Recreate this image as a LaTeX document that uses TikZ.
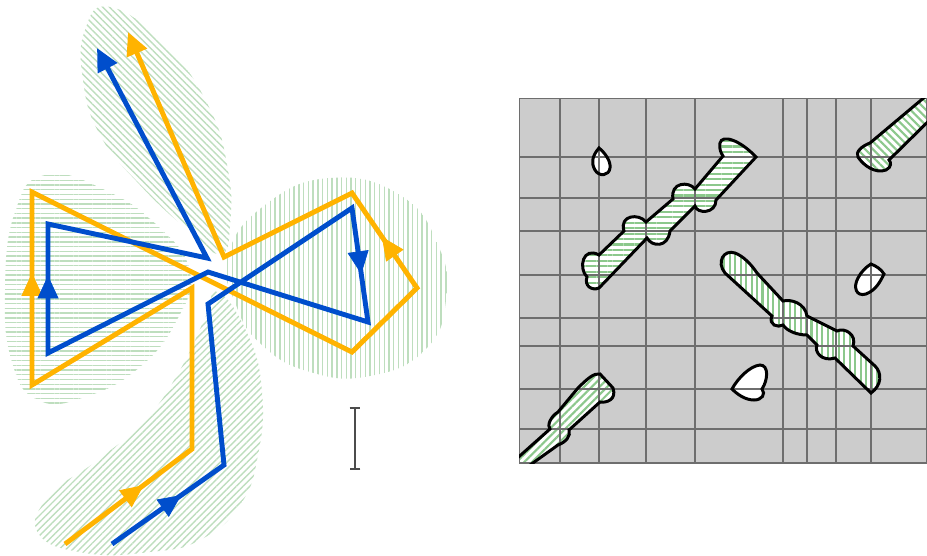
\documentclass[tikz,border=0pt]{standalone}
\usetikzlibrary{arrows.meta,patterns.meta,decorations.markings}

\definecolor{routeorange}{RGB}{255,179,0}
\definecolor{routeblue}{RGB}{0,78,204}
\definecolor{petalgreen}{RGB}{190,222,190}
\definecolor{stripegreen}{RGB}{140,200,140}
\definecolor{freegray}{RGB}{204,204,204}
\definecolor{gridgray}{RGB}{110,110,110}

\begin{document}
\begin{tikzpicture}[
  x=0.02cm, y=-0.02cm,
  route/.style={line width=2.8pt, -{Triangle[length=13pt,width=12pt]}},
  midtip/.style 2 args={decorate, decoration={markings,
    mark=at position #1 with {\arrow{Triangle[length=13pt,width=12pt,color=#2]}}}},
  petal/.style={pattern color=petalgreen},
  band/.style={preaction={fill=white}, pattern color=stripegreen},
  hole/.style={fill=white},
  edge/.style={draw=black, line width=1.7pt},
  gridline/.style={draw=gridgray, line width=0.6pt},
  scalebar/.style={draw=black!70, line width=1pt, {Bar[width=6pt]}-{Bar[width=6pt]}}
]
  \useasboundingbox (0,0) rectangle (927,555);

  % Petals
  \path[petal, pattern={Lines[angle=-45,distance=2.7pt,line width=0.8pt]}]
    plot[smooth cycle, tension=0.8] coordinates {(110,7) (165,45) (208,105) (228,170)
      (230,225) (221,254) (190,232) (140,185) (100,135) (83,80) (85,30)};
  \path[petal, pattern={Lines[angle=0,distance=2.7pt,line width=0.8pt]}]
    plot[smooth cycle, tension=0.8] coordinates {(45,175) (105,190) (160,228) (190,272)
      (178,318) (140,367) (85,397) (38,400) (12,362) (5,290) (15,212)};
  \path[petal, pattern={Lines[angle=90,distance=2.7pt,line width=0.8pt]}]
    plot[smooth cycle, tension=0.8] coordinates {(228,255) (265,205) (330,178) (400,195)
      (438,245) (446,300) (425,350) (370,376) (310,372) (262,345) (236,305)};
  \path[petal, pattern={Lines[angle=45,distance=2.7pt,line width=0.8pt]}]
    plot[smooth cycle, tension=0.8] coordinates {(218,292) (248,335) (262,392) (258,455)
      (240,505) (200,540) (150,552) (85,553) (38,533) (50,495) (95,462) (145,420)
      (180,370) (205,318)};

  % Orange route
  \coordinate (o1) at (65,544);
  \coordinate (o2) at (192,449);
  \coordinate (o3) at (192,288);
  \coordinate (o4) at (32,385);
  \coordinate (o5) at (32,192);
  \coordinate (o6) at (352,352);
  \coordinate (o7) at (417,288);
  \coordinate (o8) at (352,193);
  \coordinate (o9) at (224,257);
  \coordinate (o10) at (128,32);
  \draw[route, routeorange] (o1) -- (o2) -- (o3) -- (o4) -- (o5) -- (o6) -- (o7)
    -- (o8) -- (o9) -- (o10);
  \path[midtip={0.62}{routeorange}] (o1) -- (o2);
  \path[midtip={0.58}{routeorange}] (o4) -- (o5);
  \path[midtip={0.54}{routeorange}] (o7) -- (o8);

  % Blue route
  \coordinate (b1) at (112,544);
  \coordinate (b2) at (224,465);
  \coordinate (b3) at (208,304);
  \coordinate (b4) at (352,208);
  \coordinate (b5) at (368,322);
  \coordinate (b6) at (208,272);
  \coordinate (b7) at (48,353);
  \coordinate (b8) at (48,224);
  \coordinate (b9) at (207,258);
  \coordinate (b10) at (97,48);
  \draw[route, routeblue] (b1) -- (b2) -- (b3) -- (b4) -- (b5) -- (b6) -- (b7)
    -- (b8) -- (b9) -- (b10);
  \path[midtip={0.62}{routeblue}] (b1) -- (b2);
  \path[midtip={0.58}{routeblue}] (b4) -- (b5);
  \path[midtip={0.6}{routeblue}] (b7) -- (b8);

  % Scale
  \coordinate (bartop) at (355,407);
  \coordinate (barbot) at (355,470);
  \draw[scalebar] (bartop) -- (barbot);

  % Configuration space
  \begin{scope}
    \clip (519,98) rectangle (927,463);
    \fill[freegray] (519,98) rectangle (927,463);
    \path[band, pattern={Lines[angle=0,distance=3.1pt,line width=1.2pt]}, save path=\stripA]
      (599,288) -- (647,238) .. controls (652,247) and (668,248) .. (670,231)
      -- (695,206) .. controls (697,214) and (716,214) .. (716,200)
      -- (756,157) .. controls (740,140) and (722,134) .. (720,143)
      .. controls (719,149) and (721,153) .. (723,156)
      -- (695,189) .. controls (689,181) and (670,182) .. (673,199)
      -- (646,222) .. controls (639,213) and (619,215) .. (624,231)
      -- (599,255) .. controls (583,246) and (578,268) .. (587,277)
      .. controls (584,286) and (592,291) .. (599,288) -- cycle;
    \path[band, pattern={Lines[angle=90,distance=3.1pt,line width=1.2pt]}, save path=\stripB]
      (725,273) .. controls (716,262) and (724,249) .. (735,253)
      .. controls (743,256) and (751,264) .. (757,273)
      -- (783,301) .. controls (791,299) and (805,303) .. (807,316)
      -- (837,331) .. controls (845,327) and (857,335) .. (853,346)
      -- (875,366) .. controls (882,373) and (882,385) .. (871,393)
      -- (835,358) .. controls (822,362) and (814,352) .. (817,345)
      -- (807,335) .. controls (797,335) and (787,331) .. (783,325)
      .. controls (778,328) and (768,325) .. (772,316) -- cycle;
    \path[band, pattern={Lines[angle=45,distance=3.1pt,line width=1.2pt]}, save path=\stripC]
      (505,483) -- (558,445) .. controls (566,442) and (571,436) .. (569,430)
      -- (600,402) .. controls (606,403) and (617,400) .. (613,388)
      -- (600,374) .. controls (594,373) and (588,378) .. (578,388)
      -- (558,412) .. controls (550,417) and (547,426) .. (550,429)
      -- (495,478) -- cycle;
    \path[band, pattern={Lines[angle=-45,distance=3.1pt,line width=1.2pt]}, save path=\stripD]
      (945,80) -- (870,143) .. controls (862,146) and (855,152) .. (858,157)
      .. controls (863,165) and (875,174) .. (886,170)
      .. controls (892,167) and (891,162) .. (889,160) -- (950,100) -- cycle;
    \path[hole, save path=\holeA]
      (599,148) .. controls (605,153) and (611,161) .. (610,168)
      .. controls (609,176) and (599,177) .. (595,170)
      .. controls (591,163) and (592,156) .. (599,148) -- cycle;
    \path[hole, save path=\holeB]
      (871,264) .. controls (876,266) and (881,269) .. (884,274)
      .. controls (880,282) and (876,290) .. (866,294)
      .. controls (856,297) and (853,287) .. (858,278)
      .. controls (861,272) and (866,267) .. (871,264) -- cycle;
    \path[hole, save path=\holeC]
      (732,389) .. controls (738,378) and (750,366) .. (760,365)
      .. controls (769,365) and (768,380) .. (762,389)
      .. controls (766,394) and (762,400) .. (754,400)
      .. controls (745,400) and (737,394) .. (732,389) -- cycle;
    \foreach \gx in {519,560,599,646,695,783,807,836,871,927}
      \draw[gridline] (\gx,98) -- (\gx,463);
    \foreach \gy in {98,157,198,231,275,318,346,389,429,463}
      \draw[gridline] (519,\gy) -- (927,\gy);
    \draw[edge, use path=\stripA];
    \draw[edge, use path=\stripB];
    \draw[edge, use path=\stripC];
    \draw[edge, use path=\stripD];
    \draw[edge, use path=\holeA];
    \draw[edge, use path=\holeB];
    \draw[edge, use path=\holeC];
  \end{scope}
\end{tikzpicture}
\end{document}
